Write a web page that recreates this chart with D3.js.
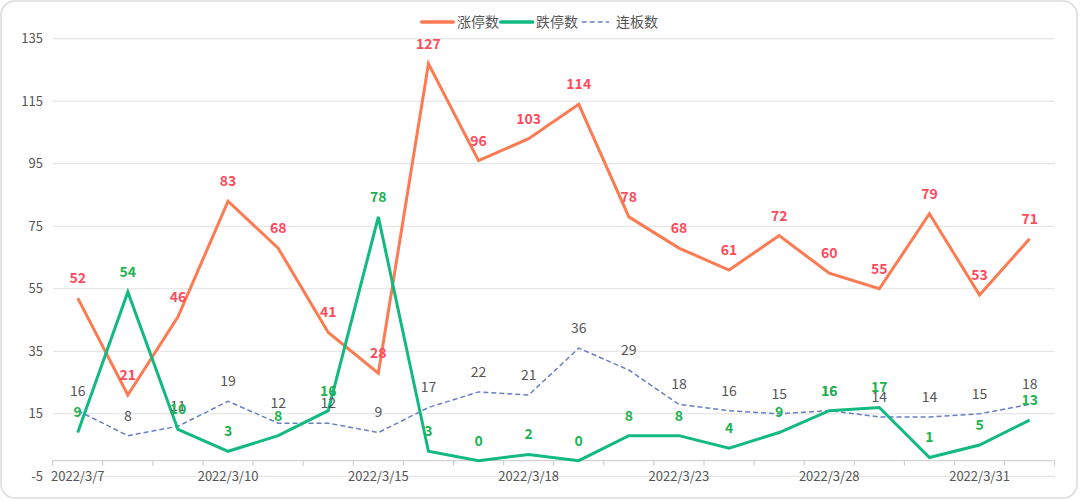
<!DOCTYPE html>
<html>
<head>
<meta charset="utf-8">
<script src="https://cdn.jsdelivr.net/npm/d3@7/dist/d3.min.js"></script>
<style>
  html, body { margin: 0; padding: 0; background: #fff; }
  svg { display: block; font-family: "Noto Sans CJK SC", "Noto Sans", sans-serif; }
</style>
</head>
<body>
<svg id="chart" width="1080" height="501"></svg>
<script>
const categories = ["2022/3/7","2022/3/8","2022/3/9","2022/3/10","2022/3/11","2022/3/14","2022/3/15","2022/3/16","2022/3/17","2022/3/18","2022/3/21","2022/3/22","2022/3/23","2022/3/24","2022/3/25","2022/3/28","2022/3/29","2022/3/30","2022/3/31","2022/4/1"];
const limitUp   = [52, 21, 46, 83, 68, 41, 28, 127, 96, 103, 114, 78, 68, 61, 72, 60, 55, 79, 53, 71];
const limitDown = [9, 54, 10, 3, 8, 16, 78, 3, 0, 2, 0, 8, 8, 4, 9, 16, 17, 1, 5, 13];
const streak    = [16, 8, 11, 19, 12, 12, 9, 17, 22, 21, 36, 29, 18, 16, 15, 16, 14, 14, 15, 18];
const seriesNames = ["涨停数", "跌停数", "连板数"];
const yTicks = [-5, 15, 35, 55, 75, 95, 115, 135];
const xLabelEvery = 3;

(function () {
const svg = d3.select("#chart");
const W = 1080, H = 501;
const pLeft = 52.7, pRight = 1054.7, pTop = 38.7, pBottom = 476.3;

svg.append("rect").attr("x", 1).attr("y", 1).attr("width", W - 4).attr("height", H - 4)
  .attr("rx", 14).attr("fill", "#fff").attr("stroke", "#dcdcdc").attr("stroke-width", 1.6);

const x = d3.scaleBand().domain(d3.range(categories.length)).range([pLeft, pRight]).paddingInner(0).paddingOuter(0);
const y = d3.scaleLinear().domain([-5, 135]).range([pBottom, pTop]);
const cx = i => x(i) + x.bandwidth() / 2;

// grid
svg.append("g").selectAll("line").data(yTicks).join("line")
  .attr("x1", pLeft).attr("x2", pRight).attr("y1", d => y(d)).attr("y2", d => y(d))
  .attr("stroke", "#e0e0e0").attr("stroke-width", 1);

// y labels
svg.append("g").selectAll("text").data(yTicks).join("text")
  .attr("x", 43).attr("y", d => y(d)).attr("dy", "0.35em").attr("text-anchor", "end")
  .attr("font-size", 13).attr("fill", "#555").text(d => d);

// x axis at y=0
const x0 = y(0);
const gx = svg.append("g").attr("transform", `translate(0,${x0})`);
gx.append("line").attr("x1", pLeft).attr("x2", pRight).attr("y1", 0).attr("y2", 0).attr("stroke", "#c8c8c8");
const bounds = d3.range(categories.length + 1).map(i => pLeft + i * x.bandwidth());
gx.selectAll("line.tk").data(bounds).join("line").attr("class", "tk")
  .attr("x1", d => d).attr("x2", d => d).attr("y1", 0).attr("y2", 5).attr("stroke", "#c8c8c8");
gx.selectAll("text").data(d3.range(categories.length).filter(i => i % xLabelEvery === 0)).join("text")
  .attr("x", i => cx(i)).attr("y", 16).attr("dy", "0.35em").attr("text-anchor", "middle")
  .attr("font-size", 13).attr("fill", "#555").text(i => categories[i]);

const line = d3.line().x((d, i) => cx(i)).y(d => y(d));
const cOrange = "#fd7b52", cGreen = "#12b980", cBlue = "#6a7ec6";
const cRed = "#ff4a5c", cGreenLbl = "#1db350", cGrey = "#555";

svg.append("path").datum(streak).attr("d", line).attr("fill", "none")
  .attr("stroke", cBlue).attr("stroke-width", 1.5).attr("stroke-dasharray", "5,3");
svg.append("path").datum(limitUp).attr("d", line).attr("fill", "none")
  .attr("stroke", cOrange).attr("stroke-width", 3).attr("stroke-linejoin", "miter");
svg.append("path").datum(limitDown).attr("d", line).attr("fill", "none")
  .attr("stroke", cGreen).attr("stroke-width", 3).attr("stroke-linejoin", "miter");

function labels(data, color, weight) {
  svg.append("g").selectAll("text").data(data).join("text")
    .attr("x", (d, i) => cx(i)).attr("y", d => y(d) - 20).attr("dy", "0.35em")
    .attr("text-anchor", "middle").attr("font-size", 14).attr("font-weight", weight)
    .attr("fill", color).text(d => d);
}
labels(streak, cGrey, "normal");
labels(limitUp, cRed, "bold");
labels(limitDown, cGreenLbl, "bold");

// legend
const lg = svg.append("g");
const ly = 22;
const items = [
  {name: seriesNames[0], x1: 421.7, x2: 453.3, tx: 457, color: cOrange, dash: null, w: 3.5},
  {name: seriesNames[1], x1: 500.7, x2: 532.7, tx: 536, color: cGreen, dash: null, w: 3.5},
  {name: seriesNames[2], x1: 581.7, x2: 609, tx: 616, color: cBlue, dash: "5,3", w: 1.5}
];
items.forEach(it => {
  lg.append("line").attr("x1", it.x1).attr("x2", it.x2).attr("y1", ly).attr("y2", ly)
    .attr("stroke", it.color).attr("stroke-width", it.w).attr("stroke-dasharray", it.dash)
    .attr("stroke-linecap", it.dash ? "butt" : "round");
  lg.append("text").attr("x", it.tx).attr("y", ly).attr("dy", "0.35em")
    .attr("font-size", 14).attr("fill", "#555").text(it.name);
});
})();
</script>
</body>
</html>
